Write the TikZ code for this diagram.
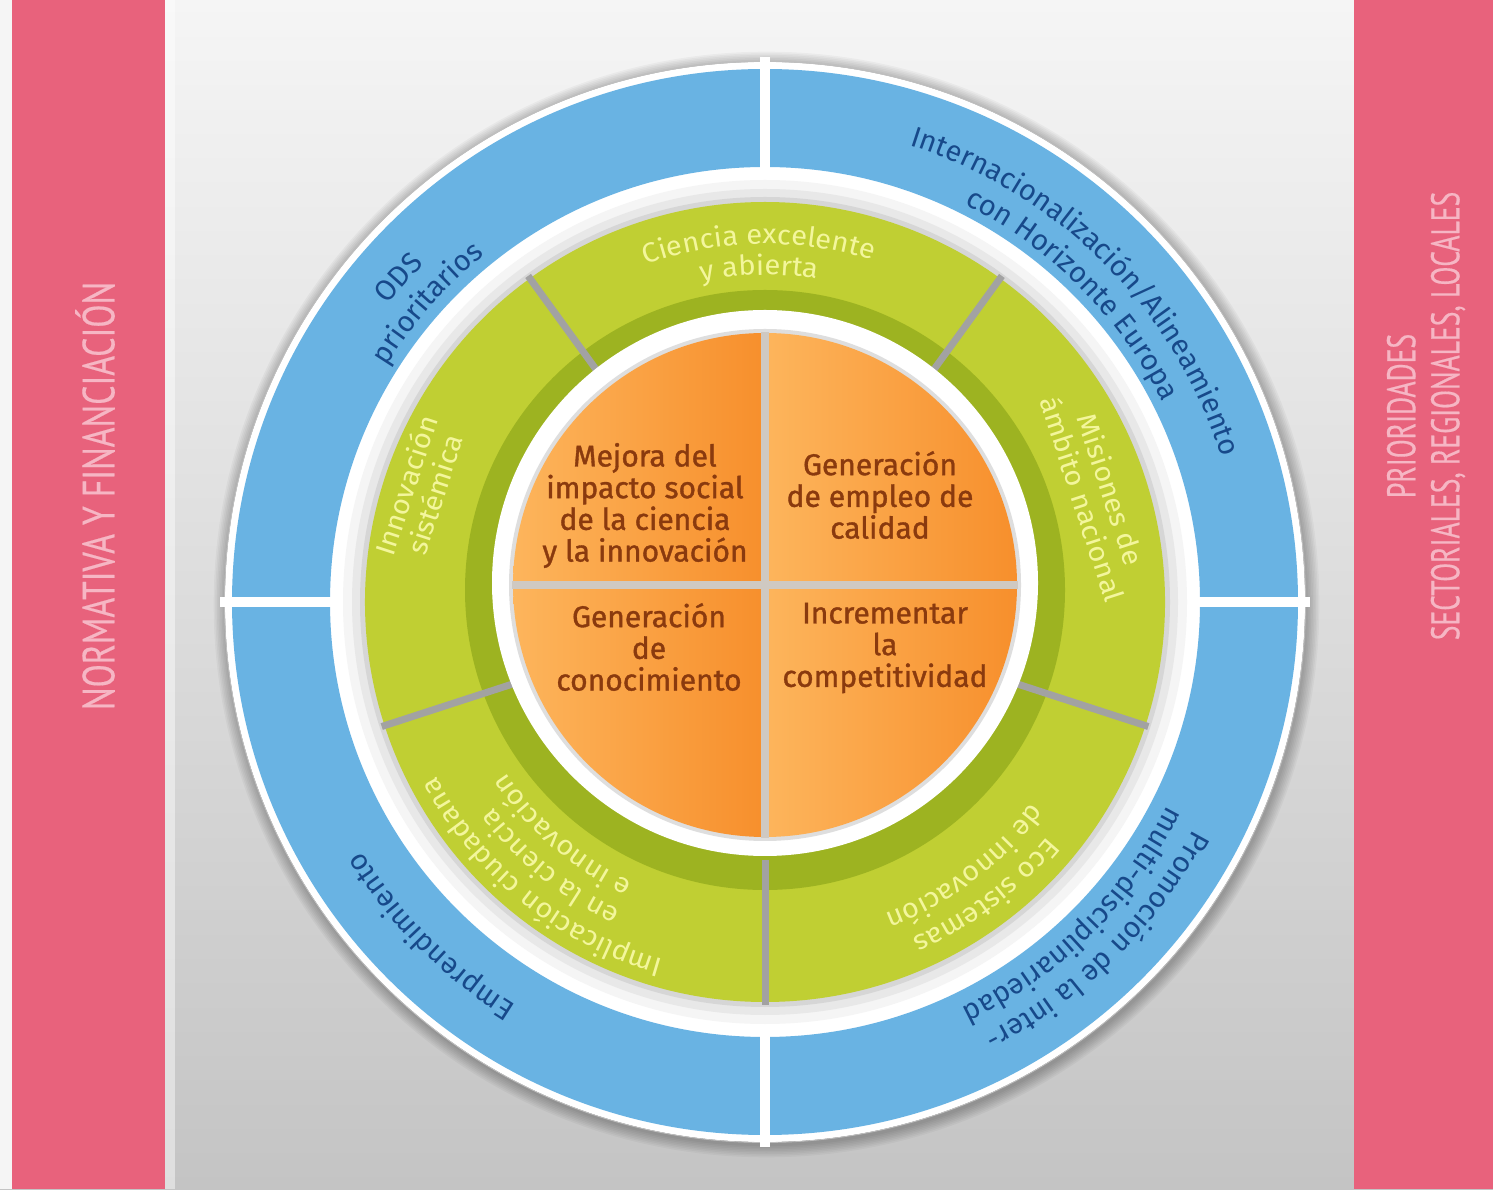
\documentclass[tikz,border=0pt]{standalone}
\usepackage{fontspec}
\setmainfont{Fira Sans}
\newfontfamily\orangefont{Fira Sans}[FakeBold=1.2]
\newfontfamily\pinkfontL{PT Sans}[FakeStretch=0.75,FakeBold=0.4]
\newfontfamily\pinkfontR{PT Sans}[FakeStretch=0.69,FakeBold=0.4]
\newfontfamily\greenfont{Fira Sans}[FakeStretch=1.06]
\usetikzlibrary{decorations.text}
\definecolor{pinkbar}{HTML}{E8627C}
\definecolor{pinktext}{HTML}{F6B6C4}
\definecolor{blueR}{HTML}{69B3E3}
\definecolor{blueT}{HTML}{17498A}
\definecolor{greenS}{HTML}{C0CF33}
\definecolor{greenD}{HTML}{9DB321}
\definecolor{greenT}{HTML}{F3F69C}
\definecolor{orangeL}{HTML}{FDB55C}
\definecolor{orangeR}{HTML}{F78F2C}
\definecolor{brownT}{HTML}{8A3A0E}
\definecolor{bgtop}{HTML}{F5F5F5}
\definecolor{bgbot}{HTML}{C4C4C4}
\definecolor{sepgray}{HTML}{A2A2A2}
\definecolor{crossgray}{HTML}{CFC9C2}
\newcommand\fBlue{\fontsize{29}{31}\selectfont}
\newcommand\fGreen{\greenfont\fontsize{27.5}{30}\selectfont}
\begin{document}
\begin{tikzpicture}[x=1pt,y=1pt,
  pinklabelL/.style={font=\pinkfontL\fontsize{45}{46}\selectfont, text=pinktext, align=center, inner sep=0pt},
  pinklabelR/.style={font=\pinkfontR\fontsize{40}{44}\selectfont, text=pinktext, align=center, inner sep=0pt},
  orangelabel/.style={font=\orangefont\fontsize{30}{31.7}\selectfont, text=brownT, align=center, inner sep=0pt},
  greenlabel/.style={font=\fGreen, text=greenT, align=center, inner sep=0pt},
  blueArc/.style={decorate, decoration={text along path, text align=center, text color=blueT, text={|\fBlue|#1}}},
  greenArc/.style={decorate, decoration={text along path, text align=center, text color=greenT, text={|\fGreen|#1}}},
  sepline/.style={sepgray, line width=7pt},
  quadrant/.style={left color=orangeL, right color=orangeR}]
\useasboundingbox (0,0) rectangle (1493,1189);
% background and side bars
\shade[top color=bgtop, bottom color=bgbot] (0,0) rectangle (1493,1189);
\fill[white!92!gray] (0,0) rectangle (12,1189);
\fill[pinkbar] (12,0) rectangle (165,1189);
\fill[white, opacity=0.45] (165,0) rectangle (175,1189);
\fill[pinkbar] (1354,0) rectangle (1493,1189);
\node[pinklabelL, rotate=90] (normativa) at (95,693) {NORMATIVA Y FINANCIACIÓN};
\node[pinklabelR, rotate=90] (prioridades) at (1426,773) {PRIORIDADES\\SECTORIALES, REGIONALES, LOCALES};
\begin{scope}[shift={(765,587)}]
  % outer shadow and rim
  \foreach \i in {1,...,8} \fill[black, opacity=0.035] (1.5,-2.5) circle ({540+\i*1.6});
  \fill[white] (0,0) circle (540);
  \draw[black!25, line width=0.8pt] (0,0) circle (540.5);
  % blue ring
  \fill[blueR, even odd rule] (0,0) circle (533) (0,0) circle (435);
  \draw[white, line width=10pt] (-545,0) -- (545,0) (0,-545) -- (0,545);
  % halo under the green ring
  \fill[white] (0,0) circle (430);
  \fill[black!4] (0,0) circle (422);
  \fill[black!9] (0,0) circle (413);
  \fill[black!16] (0,0) circle (405);
  % green segments
  \foreach \a in {54,126,198,270,342}
    \fill[greenS] (\a:262) arc[start angle=\a, end angle={\a+72}, radius=262] -- ({\a+72}:400) arc[start angle={\a+72}, end angle=\a, radius=400] -- cycle;
  \fill[greenD, even odd rule] (0,12) circle (300) (0,19) circle (272);
  \foreach \a in {54,126,198,270,342} \draw[sepline] (\a:258) -- (\a:403);
  % green texts
  \path[greenArc={Ciencia excelente}] (151:358) arc[start angle=151, end angle=31, radius=358];
  \path[greenArc={y abierta}] (151:327) arc[start angle=151, end angle=31, radius=327];
  \node[greenlabel, rotate=72] (innovacion) at (162:363) {Innovación\\sistémica};
  \node[greenlabel, rotate=-72] (misiones) at (18:349) {Misiones de\\ámbito nacional};
  \path[greenArc={Implicación ciudadana}] (291:372) arc[start angle=291, end angle=171, radius=372];
  \path[greenArc={en la ciencia}] (291:341) arc[start angle=291, end angle=171, radius=341];
  \path[greenArc={e innovación}] (289:310) arc[start angle=289, end angle=169, radius=310];
  \path[greenArc={Eco sistemas}] (7:367) arc[start angle=7, end angle=-113, radius=367];
  \path[greenArc={de innovación}] (7:334) arc[start angle=7, end angle=-113, radius=334];
  % white ring and orange disc
  \fill[white] (0,19) circle (273);
  \fill[black!13] (0,17) circle (256);
  \begin{scope}[shift={(0,17)}]
    \shade[quadrant] (0,0) -- (180:252) arc[start angle=180, end angle=90, radius=252] -- cycle;
    \shade[quadrant] (0,0) -- (90:252) arc[start angle=90, end angle=0, radius=252] -- cycle;
    \shade[quadrant] (0,0) -- (0:252) arc[start angle=0, end angle=-90, radius=252] -- cycle;
    \shade[quadrant] (0,0) -- (-90:252) arc[start angle=-90, end angle=-180, radius=252] -- cycle;
    \draw[crossgray, line width=8pt] (-253,0) -- (253,0) (0,-253) -- (0,253);
  \end{scope}
  \node[orangelabel] (q1) at (-120,96.5) {Mejora del\\impacto social\\de la ciencia\\y la innovación};
  \node[orangelabel] (q2) at (115,107) {Generación\\de empleo de\\calidad};
  \node[orangelabel] (q3) at (-116,-45) {Generación\\de\\conocimiento};
  \node[orangelabel] (q4) at (120,-46) {Incrementar\\la\\competitividad};
  % blue ring texts
  \path[blueArc={ODS}] (198.5:480) arc[start angle=198.5, end angle=78.5, radius=480];
  \path[blueArc={prioritarios}] (198.5:446) arc[start angle=198.5, end angle=78.5, radius=446];
  \path[blueArc={Internacionalización/Alineamiento}] (110:479) arc[start angle=110, end angle=-20, radius=479];
  \path[blueArc={con Horizonte Europa}] (110:445) arc[start angle=110, end angle=-20, radius=445];
  \path[blueArc={Emprendimiento}] (290:474) arc[start angle=290, end angle=160, radius=474];
  \path[blueArc={Promoción de la inter-}] (19.5:485) arc[start angle=19.5, end angle=-110.5, radius=485];
  \path[blueArc={multi-disciplinariedad}] (19.5:451) arc[start angle=19.5, end angle=-110.5, radius=451];
\end{scope}
\end{tikzpicture}
\end{document}
